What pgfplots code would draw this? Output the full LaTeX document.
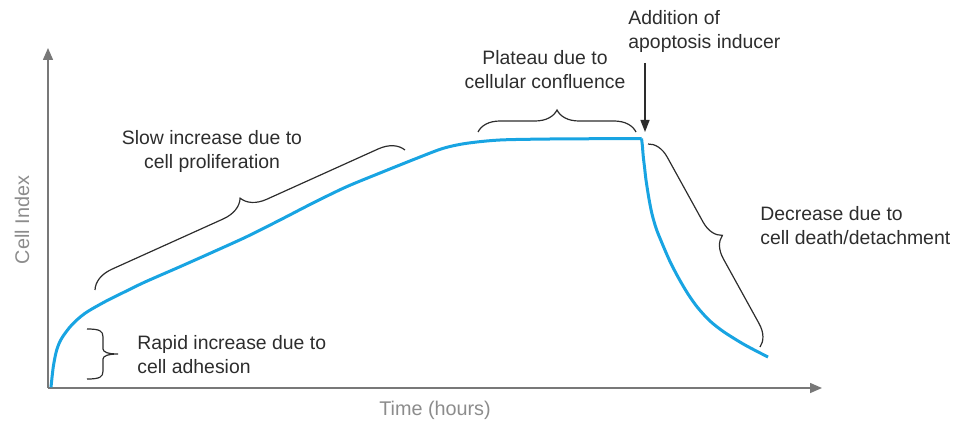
\documentclass[border=0pt]{standalone}
\usepackage{fontspec}
\setmainfont{Liberation Sans}
\usepackage{pgfplots}
\pgfplotsset{compat=1.18}
\usetikzlibrary{arrows.meta,decorations.pathreplacing}
\definecolor{curveblue}{RGB}{24,164,226}
\definecolor{txt}{RGB}{45,45,45}
\definecolor{axgray}{RGB}{120,120,120}
\definecolor{labgray}{RGB}{140,140,140}
\begin{document}
\begin{tikzpicture}
\begin{axis}[
  x=0.5pt, y=0.5pt,
  xmin=48, xmax=822, ymin=37, ymax=377,
  axis lines=left,
  axis line style={draw=axgray, line width=0.75pt},
  x axis line style={-{Triangle[length=6pt,width=5pt]}},
  y axis line style={-{Triangle[length=6pt,width=5pt]}},
  xtick=\empty, ytick=\empty,
  clip=false,
]
\addplot[curveblue, line width=1.5pt, line join=round, smooth, tension=0.5] coordinates {
(51,37.7) (53.3,58.3) (56.7,75) (61.7,86.7) (71.7,100) (85,111.7)
(105,123.3) (125,133.3) (145,143) (180,158.3) (213,173) (246.7,188.3)
(280,205) (313,222) (346,238) (380,252) (416.7,266.7) (443.3,276.7)
(466.7,281.7) (500,285) (550,286) (600,286.3) (641.5,286.5)
};
\addplot[curveblue, line width=1.5pt, line join=round, smooth, tension=0.5] coordinates {
(641.5,286.5) (642.3,280) (643.3,268) (644.5,258) (646,245) (649,226) (652,211)
(656,197) (660.7,185) (669.3,165) (678,148) (688,131) (698,117) (710,104)
(724,93) (745,80) (768,68)
};
% bounding box
\path (axis cs:0,0) rectangle (axis cs:978,425);
% braces
\draw[txt, line width=0.6pt]
 (axis cs:87,96) .. controls (axis cs:100,96) and (axis cs:103,94) .. (axis cs:103,88)
 -- (axis cs:103,76) .. controls (axis cs:103,73) and (axis cs:108,71) .. (axis cs:118,71)
 .. controls (axis cs:108,71) and (axis cs:103,69) .. (axis cs:103,66)
 -- (axis cs:103,54) .. controls (axis cs:103,48) and (axis cs:100,46) .. (axis cs:87,46);
\draw[txt, line width=0.6pt, decorate, decoration={brace, amplitude=12pt}]
 (axis cs:95,135) -- (axis cs:405,275);
\draw[txt, line width=0.6pt, decorate, decoration={brace, amplitude=11pt}]
 (axis cs:478,293) -- (axis cs:636,293);
\draw[txt, line width=0.6pt, decorate, decoration={brace, amplitude=10.5pt}]
 (axis cs:648,281) -- (axis cs:760,78);
% arrow
\draw[txt, line width=0.7pt, -{Triangle[length=6pt,width=4.5pt]}]
 (axis cs:645,362) -- (axis cs:645,293);
% texts
\tikzset{lab/.style={font=\fontsize{9.7}{12}\selectfont, text=txt, inner sep=0pt}}
\node[lab, align=center] at (axis cs:212,273.5) {Slow increase due to\\cell proliferation};
\node[lab, align=center] at (axis cs:545,355.5) {Plateau due to\\cellular confluence};
\node[lab, align=left, anchor=west] at (axis cs:628,394) {Addition of\\apoptosis inducer};
\node[lab, align=left, anchor=west] at (axis cs:760,199) {Decrease due to\\cell death/detachment};
\node[lab, align=left, anchor=west] at (axis cs:137,70) {Rapid increase due to\\cell adhesion};
\node[font=\fontsize{9.9}{12}\selectfont, text=labgray, rotate=90] at (axis cs:22,205) {Cell Index};
\node[font=\fontsize{9.9}{12}\selectfont, text=labgray] at (axis cs:435,15) {Time (hours)};
\end{axis}
\end{tikzpicture}
\end{document}
